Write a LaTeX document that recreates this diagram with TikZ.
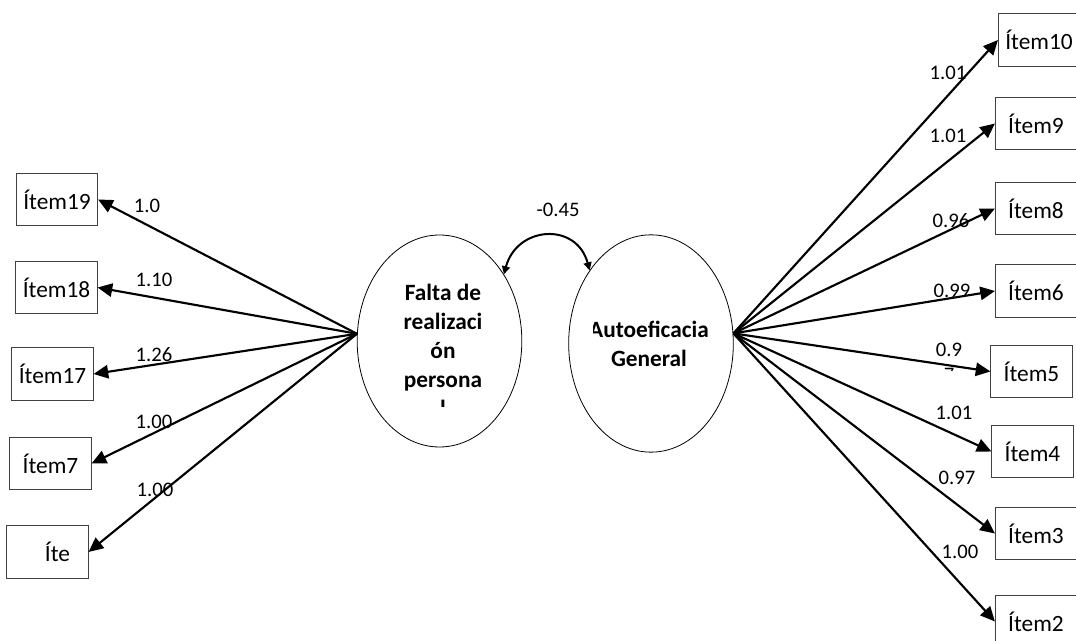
\documentclass[tikz,border=0pt]{standalone}
\usepackage{fontspec}
\setmainfont{Carlito}
\usetikzlibrary{arrows.meta,shapes.geometric}

\begin{document}
\begin{tikzpicture}[x=0.75pt,y=-0.75pt,
  item/.style={draw=black!75,line width=0.6pt,minimum width=61pt,minimum height=39.5pt,inner sep=0pt,font=\fontsize{17.5}{21}\selectfont},
  latent/.style={draw,ellipse,line width=0.6pt,minimum width=123.5pt,inner sep=0pt},
  lattext/.style={align=center,inner sep=0pt,font=\bfseries\fontsize{17.5}{21.75}\selectfont},
  load/.style={-{Triangle[length=11pt,width=10pt]},line width=1.6pt},
  corr/.style={{Triangle[length=6pt,width=6pt]}-{Triangle[length=6pt,width=6pt]},line width=1.5pt},
  coef/.style={inner sep=0pt,font=\fontsize{15.5}{18.75}\selectfont}]
\useasboundingbox (0,0) rectangle (1076,641);

% factores
\node[latent,minimum height=159pt] (fr) at (439.5,341) {};
\node[latent,minimum height=163pt] (ag) at (651,343.5) {};
\begin{scope}
\clip (380,270) rectangle (510,407);
\node[lattext] (frtxt) at (443,350) {Falta de\\realizaci\\ón\\persona\\l};
\end{scope}
\begin{scope}
\clip (593.5,290) rectangle (725,385);
\node[lattext] (agtxt) at (649,344) {Autoeficacia\\General};
\end{scope}

% items
\node[item] (i19) at (57,199.5) {Ítem19};
\node[item] (i18) at (56.5,287.5) {Ítem18};
\node[item] (i17) at (52.5,374) {Ítem17};
\node[item] (i7) at (50.5,463.5) {Ítem7};
\node[item] (i1) at (47.5,552) {\hspace*{15pt}Íte};
\node[item] (i10) at (1039,40) {Ítem10};
\node[item] (i9) at (1036,123.5) {Ítem9};
\node[item] (i8) at (1036,208.5) {Ítem8};
\node[item] (i6) at (1036,291) {Ítem6};
\node[item] (i5) at (1031.5,371.5) {Ítem5};
\node[item] (i4) at (1032.5,451.5) {Ítem4};
\node[item] (i3) at (1036,533.5) {Ítem3};
\node[item] (i2) at (1036,621.5) {Ítem2};

% cargas
\draw[load] (fr.175) -- (i19.east);
\draw[load] (fr.175) -- (i18.east);
\draw[load] (fr.175) -- (i17.east);
\draw[load] (fr.175) -- (i7.east);
\draw[load] (fr.175) -- (i1.east);
\draw[load] (ag.7) -- (i10.west);
\draw[load] (ag.7) -- (i9.west);
\draw[load] (ag.7) -- (i8.west);
\draw[load] (ag.7) -- (i6.west);
\draw[load] (ag.7) -- (i5.west);
\draw[load] (ag.7) -- (i4.west);
\draw[load] (ag.7) -- (i3.west);
\draw[load] (ag.7) -- (i2.west);
\draw[corr] (fr.46) to[out=75,in=105,looseness=1.5] (ag.130);

% coeficientes
\node[coef] (c19) at (147,206) {1.0};
\node[coef] (c18) at (154,280) {1.10};
\node[coef] (c17) at (154,355) {1.26};
\node[coef] (c7) at (154,422) {1.00};
\node[coef] (c1) at (155,490) {1.00};
\node[coef] (c10) at (948,73) {1.01};
\node[coef] (c9) at (948,136) {1.01};
\node[coef] (c8) at (951,221) {0.96};
\node[coef] (c6) at (952,291) {0.99};
\begin{scope}
\clip (920,330) rectangle (985,370.5);
\node[coef,align=center] (c5) at (949,362) {0.9\\7};
\end{scope}
\node[coef] (c4) at (954,413) {1.01};
\node[coef] (c3) at (957,478) {0.97};
\node[coef] (c2) at (960,552) {1.00};
\node[coef] (r) at (558,210) {-0.45};
\end{tikzpicture}
\end{document}
